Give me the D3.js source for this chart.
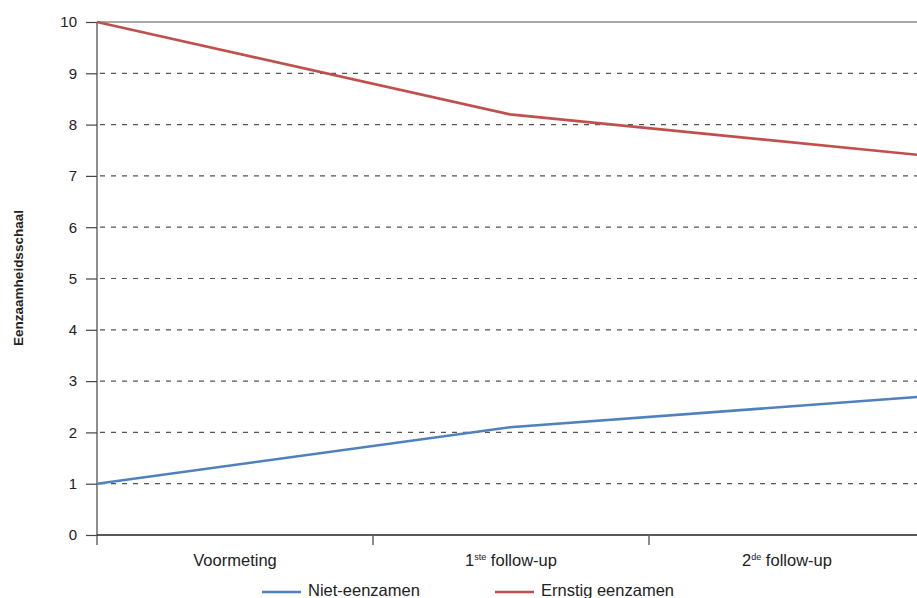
<html>
<head>
  <script src="https://d3js.org/d3.v7.min.js"></script>
  <style>
    body { margin: 0; background: #fff; }
  </style>
</head>
<body>
<script>

// data
let categories = ["Voormeting", "1ste follow-up", "2de follow-up"];
let catMain = ["Voormeting", "1", "2"];
let catSup = ["", "ste", "de"];
let catRest = ["", " follow-up", " follow-up"];
let seriesNames = ["Niet-eenzamen", "Ernstig eenzamen"];
let nietEenzamen = [1.0, 2.1, 2.7];
let ernstigEenzamen = [10.0, 8.2, 7.4];
let yTicks = [0, 1, 2, 3, 4, 5, 6, 7, 8, 9, 10];
let colors = ["#4f81bd", "#c0504d"];

let canvasW = 917;
let canvasH = 598;
let plotL = 97;
let plotR = 925;
let plotT = 22;
let plotB = 535;
let font = "Liberation Sans, Arial, sans-serif";

let svg = d3.select("body").append("svg")
  .attr("width", canvasW)
  .attr("height", canvasH)
  .style("background-color", "white");

let y = d3.scaleLinear().domain([0, 10]).range([plotB, plotT]);
let xBand = d3.scaleBand().domain(categories).range([plotL, plotR]);
let xPoint = d3.scalePoint().domain(categories).range([plotL, plotR - 2]);

// gridlines
svg.selectAll(".grid")
  .data(yTicks.filter(d => d > 0 && d < 10))
  .enter()
  .append("line")
  .attr("x1", plotL)
  .attr("x2", canvasW)
  .attr("y1", d => y(d))
  .attr("y2", d => y(d))
  .attr("stroke", "#555")
  .attr("stroke-width", 1.2)
  .attr("stroke-dasharray", "5,6")
  .attr("stroke-dashoffset", -3);

// top solid line
svg.append("line")
  .attr("x1", plotL).attr("x2", canvasW)
  .attr("y1", y(10)).attr("y2", y(10))
  .attr("stroke", "#555").attr("stroke-width", 1.2);

// y axis
let yAxis = d3.axisLeft(y)
  .tickValues(yTicks)
  .tickSize(11)
  .tickPadding(9)
  .tickFormat(d3.format("d"));

let yg = svg.append("g")
  .attr("transform", "translate(" + plotL + ",0)")
  .call(yAxis);
yg.select(".domain").remove();
yg.selectAll(".tick line").attr("stroke", "#444").attr("stroke-width", 1.2);
yg.selectAll(".tick text")
  .attr("font-family", font)
  .attr("font-size", "15px")
  .attr("fill", "#222");

svg.append("line")
  .attr("x1", plotL).attr("x2", plotL)
  .attr("y1", plotT).attr("y2", plotB + 10)
  .attr("stroke", "#444").attr("stroke-width", 1.2);

// x axis
svg.append("line")
  .attr("x1", plotL).attr("x2", canvasW)
  .attr("y1", plotB).attr("y2", plotB)
  .attr("stroke", "#222").attr("stroke-width", 1.5);

svg.selectAll(".xtick")
  .data(categories.slice(1))
  .enter()
  .append("line")
  .attr("x1", d => xBand(d))
  .attr("x2", d => xBand(d))
  .attr("y1", plotB)
  .attr("y2", plotB + 10)
  .attr("stroke", "#666").attr("stroke-width", 1.5);

let xlabels = svg.selectAll(".xlabel")
  .data(categories)
  .enter()
  .append("text")
  .attr("x", d => xBand(d) + xBand.bandwidth() / 2)
  .attr("y", 566)
  .attr("text-anchor", "middle")
  .attr("font-family", font)
  .attr("font-size", "16.5px")
  .attr("fill", "#222");

xlabels.append("tspan").text((d, i) => catMain[i]);
xlabels.append("tspan")
  .attr("font-size", "9px")
  .attr("dy", -6)
  .text((d, i) => catSup[i]);
xlabels.append("tspan")
  .attr("dy", (d, i) => catSup[i] ? 6 : 0)
  .text((d, i) => catRest[i]);

// y title
svg.append("text")
  .attr("transform", "translate(23,278) rotate(-90)")
  .attr("text-anchor", "middle")
  .attr("font-family", font)
  .attr("font-weight", "bold")
  .attr("font-size", "13.5px")
  .attr("fill", "#222")
  .text("Eenzaamheidsschaal");

// lines
let line = d3.line()
  .x((d, i) => xPoint(categories[i]))
  .y(d => y(d));

[nietEenzamen, ernstigEenzamen].forEach((s, k) => {
  svg.append("path")
    .datum(s)
    .attr("d", line)
    .attr("fill", "none")
    .attr("stroke", colors[k])
    .attr("stroke-width", 2.6);
});

// legend
let legendX = [262, 495];
seriesNames.forEach((name, k) => {
  svg.append("line")
    .attr("x1", legendX[k]).attr("x2", legendX[k] + 39)
    .attr("y1", 592).attr("y2", 592)
    .attr("stroke", colors[k]).attr("stroke-width", 2.6);
  svg.append("text")
    .attr("x", legendX[k] + 46)
    .attr("y", 596)
    .attr("font-family", font)
    .attr("font-size", "16.5px")
    .attr("fill", "#222")
    .text(name);
});

</script>
</body>
</html>
